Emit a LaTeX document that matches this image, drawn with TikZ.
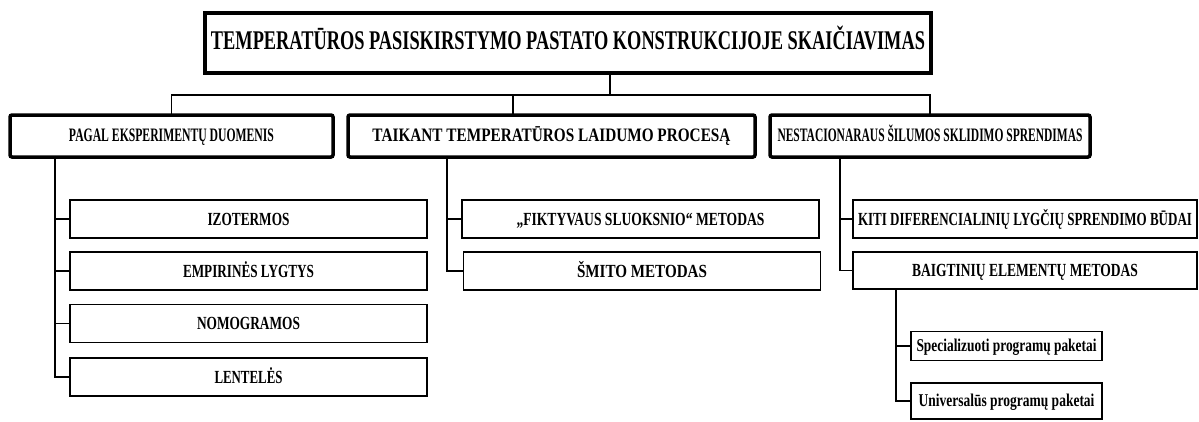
\documentclass[tikz,border=0pt]{standalone}
\usepackage{fontspec}
\setmainfont{Liberation Serif}
\usepackage{graphicx}
\newcommand{\fitw}[2]{\resizebox{#1pt}{\height}{#2}}
\begin{document}
\begin{tikzpicture}[x=1pt,y=-1pt,
  every node/.style={inner sep=0pt, outer sep=0pt},
  titlebox/.style={draw, line width=4.5pt, minimum width=726pt, minimum height=60pt,
    font=\bfseries\fontsize{27}{27}\selectfont, text height=17.8pt, text depth=4pt},
  mainbox/.style={draw, line width=3.5pt, rounded corners=2pt, minimum height=42pt,
    font=\bfseries\fontsize{19}{19}\selectfont, text height=12.6pt, text depth=1pt},
  subbox/.style={draw, line width=1.8pt, minimum height=38pt,
    font=\bfseries\fontsize{18.5}{18.5}\selectfont, text height=12.2pt, text depth=0pt},
  leafbox/.style={draw, line width=1.6pt, minimum width=191pt,
    font=\bfseries\fontsize{18}{18}\selectfont, text height=11.9pt, text depth=1pt},
  link/.style={line width=1.6pt}]
\useasboundingbox (0,0) rectangle (1199,421);

% title
\node[titlebox] (title) at (568,43)
  {\fitw{714}{TEMPERATŪROS PASISKIRSTYMO PASTATO KONSTRUKCIJOJE SKAIČIAVIMAS}};

% level 1
\node[mainbox, minimum width=323pt] (b1) at (171.5,136) {\fitw{205}{PAGAL EKSPERIMENTŲ DUOMENIS}};
\node[mainbox, minimum width=407pt] (b2) at (551.5,136) {\fitw{358}{TAIKANT TEMPERATŪROS LAIDUMO PROCESĄ}};
\node[mainbox, minimum width=320pt] (b3) at (930,136) {\fitw{305}{NESTACIONARAUS ŠILUMOS SKLIDIMO SPRENDIMAS}};

% level 2
\node[subbox, minimum width=357pt] (c11) at (248.5,219) {\fitw{82}{IZOTERMOS}};
\node[subbox, minimum width=357pt] (c12) at (248.5,271) {\fitw{131}{EMPIRINĖS LYGTYS}};
\node[subbox, minimum width=357pt] (c13) at (248.5,323.5) {\fitw{103}{NOMOGRAMOS}};
\node[subbox, minimum width=357pt] (c14) at (248.5,377) {\fitw{68}{LENTELĖS}};

\node[subbox, minimum width=357pt] (c21) at (640.5,219) {\fitw{248}{„FIKTYVAUS SLUOKSNIO“ METODAS}};
\node[subbox, minimum width=357pt] (c22) at (642,271) {\fitw{130}{ŠMITO METODAS}};

\node[subbox, minimum width=344pt] (c31) at (1025,219) {\fitw{334}{KITI DIFERENCIALINIŲ LYGČIŲ SPRENDIMO BŪDAI}};
\node[subbox, minimum width=344pt, minimum height=37pt] (c32) at (1025,270.5) {\fitw{226}{BAIGTINIŲ ELEMENTŲ METODAS}};

% level 3
\node[leafbox, minimum height=29pt] (d1) at (1006.5,346) {\fitw{180}{Specializuoti programų paketai}};
\node[leafbox, minimum height=36pt] (d2) at (1006.5,401) {\fitw{176}{Universalūs programų paketai}};

% connectors: title to level 1
\coordinate (bar) at (0,95);
\coordinate (tstem) at (610,0);
\coordinate (b2stem) at (513,0);
\draw[link] (title.south -| tstem) -- (bar -| tstem);
\draw[link] (b1.north) -- (b1.north |- bar) -- (b3.north |- bar) -- (b3.north);
\draw[link] (b2.north -| b2stem) -- (bar -| b2stem);

% branch 1
\coordinate (s1) at (55,0);
\draw[link] (b1.south -| s1) |- (c14.west);
\draw[link] (c11.west) -- (c11.west -| s1);
\draw[link] (c12.west) -- (c12.west -| s1);
\draw[link] (c13.west) -- (c13.west -| s1);

% branch 2
\coordinate (s2) at (447,0);
\draw[link] (b2.south -| s2) |- (c22.west);
\draw[link] (c21.west) -- (c21.west -| s2);

% branch 3
\coordinate (s3) at (840,0);
\draw[link] (b3.south -| s3) |- (c32.west);
\draw[link] (c31.west) -- (c31.west -| s3);

% branch 4
\coordinate (s4) at (896,0);
\draw[link] (c32.south -| s4) |- (d2.west);
\draw[link] (d1.west) -- (d1.west -| s4);
\end{tikzpicture}
\end{document}
